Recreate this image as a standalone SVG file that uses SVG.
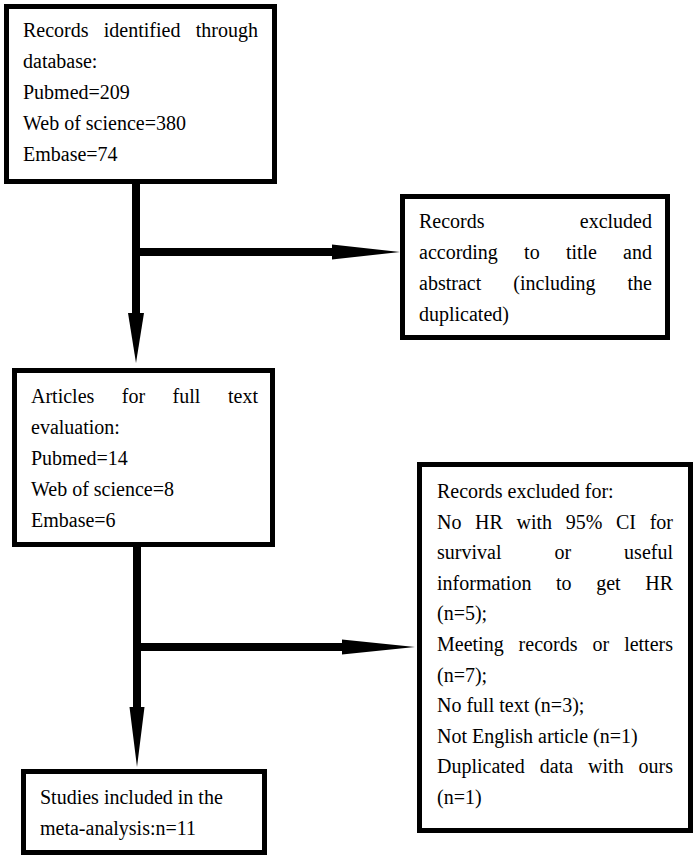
<svg xmlns="http://www.w3.org/2000/svg" width="697" height="859" viewBox="0 0 697 859">
<style>
.box{fill:#fff;stroke:#000;stroke-width:5}
.e{text-anchor:end}
.ar{fill:#000;stroke:none}
</style>
<rect width="697" height="859" fill="#fff"/>
<g id="connectors">
  <rect class="ar" x="132" y="182" width="8" height="133"/>
  <polygon class="ar" points="128,313 144,313 136,363"/>
  <rect class="ar" x="138" y="248" width="196" height="8"/>
  <polygon class="ar" points="332,244.5 332,259.5 400,252"/>
  <rect class="ar" x="133" y="545" width="8" height="164"/>
  <polygon class="ar" points="129.5,707 144.5,707 137,767"/>
  <rect class="ar" x="139" y="643" width="205" height="8"/>
  <polygon class="ar" points="342,639.5 342,654.5 415,647"/>
</g>
<g font-family="'Liberation Serif', 'Times New Roman', serif" font-size="20" fill="#000">
<g id="n1">
  <rect class="box" x="6.5" y="6.5" width="268" height="175"/>
  <text y="37"><tspan x="23">Records</tspan><tspan x="103.8">identified</tspan><tspan x="258" class="e">through</tspan></text>
  <text x="23" y="68">database:</text>
  <text x="23" y="99">Pubmed=209</text>
  <text x="23" y="130">Web of science=380</text>
  <text x="23" y="161">Embase=74</text>
</g>
<g id="n2">
  <rect class="box" x="402.5" y="196.5" width="265" height="141"/>
  <text y="228"><tspan x="419">Records</tspan><tspan x="652" class="e">excluded</tspan></text>
  <text y="259"><tspan x="419">according</tspan><tspan x="524.1">to</tspan><tspan x="565.9">title</tspan><tspan x="652" class="e">and</tspan></text>
  <text y="290"><tspan x="419">abstract</tspan><tspan x="513.3">(including</tspan><tspan x="652" class="e">the</tspan></text>
  <text x="419" y="321">duplicated)</text>
</g>
<g id="n3">
  <rect class="box" x="14.5" y="370.5" width="258" height="174"/>
  <text y="403"><tspan x="31">Articles</tspan><tspan x="121.8">for</tspan><tspan x="172.6">full</tspan><tspan x="258" class="e">text</tspan></text>
  <text x="31" y="434">evaluation:</text>
  <text x="31" y="465">Pubmed=14</text>
  <text x="31" y="496">Web of science=8</text>
  <text x="31" y="527">Embase=6</text>
</g>
<g id="n4">
  <rect class="box" x="419.5" y="464.5" width="271" height="366"/>
  <text x="437" y="498">Records excluded for:</text>
  <text y="528.6"><tspan x="437">No</tspan><tspan x="475">HR</tspan><tspan x="516.5">with</tspan><tspan x="565.7">95%</tspan><tspan x="616">CI</tspan><tspan x="673" class="e">for</tspan></text>
  <text y="559.2"><tspan x="437">survival</tspan><tspan x="554.4">or</tspan><tspan x="673" class="e">useful</tspan></text>
  <text y="589.8"><tspan x="437">information</tspan><tspan x="556">to</tspan><tspan x="596.2">get</tspan><tspan x="673" class="e">HR</tspan></text>
  <text x="437" y="620.4">(n=5);</text>
  <text y="651"><tspan x="437">Meeting</tspan><tspan x="518.6">records</tspan><tspan x="592.4">or</tspan><tspan x="673" class="e">letters</tspan></text>
  <text x="437" y="681.6">(n=7);</text>
  <text x="437" y="712.2">No full text (n=3);</text>
  <text x="437" y="742.8">Not English article (n=1)</text>
  <text y="773.4"><tspan x="437">Duplicated</tspan><tspan x="539.8">data</tspan><tspan x="588.1">with</tspan><tspan x="673" class="e">ours</tspan></text>
  <text x="437" y="804">(n=1)</text>
</g>
<g id="n5">
  <rect class="box" x="23.5" y="771.5" width="241" height="81"/>
  <text x="40" y="804">Studies included in the</text>
  <text x="40" y="835">meta-analysis:n=11</text>
</g>
</g>
</svg>
